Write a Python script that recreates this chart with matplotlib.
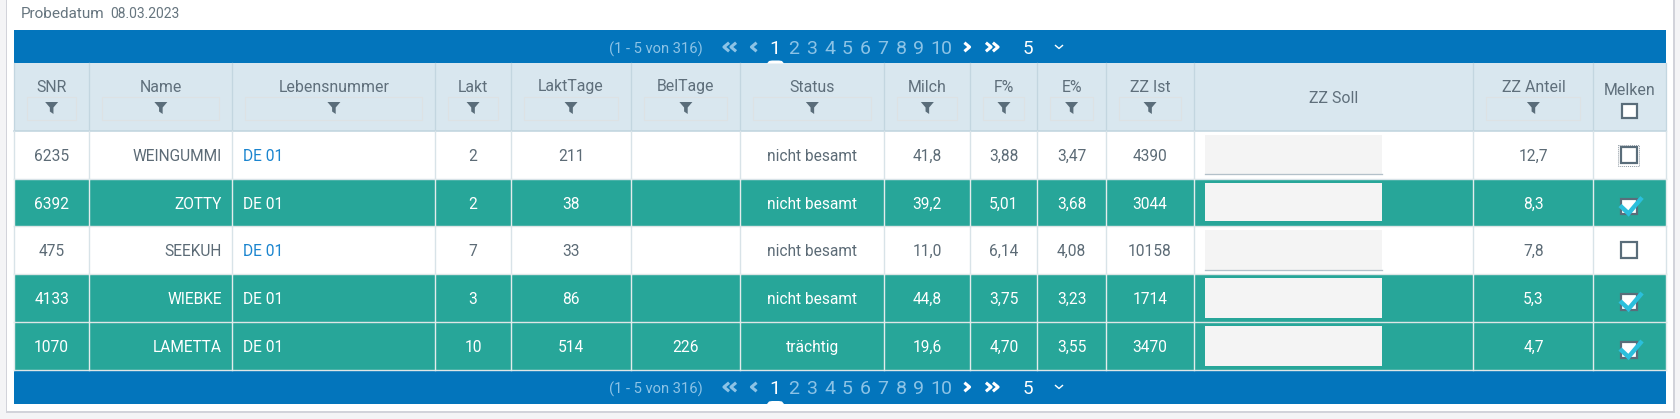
import matplotlib
matplotlib.use("Agg")
import matplotlib.pyplot as plt
from matplotlib.patches import Rectangle, Polygon
from matplotlib import font_manager as fm

# ---- data ----
columns = ["SNR", "Name", "Lebensnummer", "Lakt", "LaktTage", "BelTage", "Status",
           "Milch", "F%", "E%", "ZZ Ist", "ZZ Soll", "ZZ Anteil", "Melken"]
snr = ["6235", "6392", "475", "4133", "1070"]
names = ["WEINGUMMI", "ZOTTY", "SEEKUH", "WIEBKE", "LAMETTA"]
lebensnummer = ["DE 01", "DE 01", "DE 01", "DE 01", "DE 01"]
lakt = ["2", "2", "7", "3", "10"]
lakttage = ["211", "38", "33", "86", "514"]
beltage = ["", "", "", "", "226"]
status = ["nicht besamt", "nicht besamt", "nicht besamt", "nicht besamt", "trächtig"]
milch = ["41,8", "39,2", "11,0", "44,8", "19,6"]
fett = ["3,88", "5,01", "6,14", "3,75", "4,70"]
eiweiss = ["3,47", "3,68", "4,08", "3,23", "3,55"]
zz_ist = ["4390", "3044", "10158", "1714", "3470"]
zz_soll = ["", "", "", "", ""]
zz_anteil = ["12,7", "8,3", "7,8", "5,3", "4,7"]
melken = [False, True, False, True, True]
pages = ["1", "2", "3", "4", "5", "6", "7", "8", "9", "10"]
page_info = "(1 - 5 von 316)"
probe_label = "Probedatum"
probe_date = "08.03.2023"

# ---- layout (pixels) ----
W, H = 1681, 419
col_x = [14, 89.3, 232.4, 435.4, 510.7, 631.4, 740.4, 884.3, 970.4, 1037.5, 1105.7, 1194.4, 1473.5, 1593.3, 1665.6]
row_y = [131, 179, 226, 274, 322, 370]
BLUE = "#0375bc"; HEAD = "#d9e7ef"; TEAL = "#27a699"; TXT = "#5c6b76"; LINK = "#1b85cf"
HEADTXT = "#5f6f7b"; ICON = "#5a6d7a"; PALE = "#8cc3e6"

avail = {f.name for f in fm.fontManager.ttflist}
FAM = "Liberation Sans Narrow" if "Liberation Sans Narrow" in avail else "Roboto"
plt.rcParams["font.family"] = [FAM, "DejaVu Sans"]

fig = plt.figure(figsize=(W / 100, H / 100), dpi=100, facecolor="#f4f4f6")
ax = fig.add_axes([0, 0, 1, 1])
ax.set_xlim(0, W); ax.set_ylim(H, 0); ax.axis("off")
PX = 0.72

def rect(x0, y0, x1, y1, fc, ec="none", lw=0, z=1):
    ax.add_patch(Rectangle((x0, y0), x1 - x0, y1 - y0, fc=fc, ec=ec, lw=lw, zorder=z))

def txt(x, y, s, color=TXT, size=11.2, ha="center", **kw):
    ax.text(x, y, s, color=color, fontsize=size, ha=ha, va="center_baseline", zorder=6, **kw)

def chevron(cx, cy, color, lw=2.0, s=3.0, direction=1):
    ax.plot([cx - direction * s * 0.6, cx + direction * s * 0.6, cx - direction * s * 0.6],
            [cy - s, cy, cy + s], color=color, lw=lw, zorder=6, solid_capstyle="butt")

def funnel(cx, cy, color=ICON):
    ax.add_patch(Polygon([(cx - 6.5, cy - 6), (cx + 6.5, cy - 6), (cx + 1.8, cy - 0.5), (cx + 1.8, cy + 6),
                          (cx - 1.8, cy + 3.5), (cx - 1.8, cy - 0.5)], fc=color, ec="none", zorder=6))

def checkbox(cx, cy, checked=False, size=15.5, fc="white", focus=False):
    s = size / 2
    rect(cx - s, cy - s, cx + s, cy + s, fc, ICON, 2.0 * PX * 1.1, 6)
    if focus:
        ax.add_patch(Rectangle((cx - 10.5, cy - 10.5), 21, 21, fc="none", ec="#8f9aa3", lw=0.7,
                               ls=(0, (1, 1)), zorder=6))
    if checked:
        ax.plot([cx - 9, cx - 0.5, cx + 13], [cy - 1, cy + 7, cy - 9], color="#2bbfdc", lw=3.2,
                zorder=7, solid_joinstyle="miter", solid_capstyle="butt")

def pager(y0, y1, mark):
    rect(col_x[0], y0, col_x[-1], y1, BLUE, z=2)
    c = y0 + 17
    txt(656, c + 0.5, page_info, PALE, 10.6)
    for off in (-3.5, 3.5):
        chevron(730 + off, c, PALE, lw=2.2, s=4.3, direction=-1)
    chevron(754, c, PALE, lw=2.2, s=4.3, direction=-1)
    for lbl, x in zip(pages, [775, 794, 812, 830, 847.5, 865, 883, 901, 918.6, 941]):
        txt(x, c, lbl, "white" if lbl == "1" else PALE, 14)
    chevron(967, c, "white", lw=2.2, s=4.3)
    for off in (-3.5, 3.5):
        chevron(992 + off, c, "white", lw=2.2, s=4.3)
    txt(1028, c, "5", "white", 13.5)
    ax.plot([1055.5, 1059, 1062.5], [c - 1.5, c + 1.5, c - 1.5], color="white", lw=1.0, zorder=6)
    if mark:
        ax.add_patch(Polygon([(767, y1), (769, y1 - 2.5), (772, y1 - 3), (779, y1 - 3), (782, y1 - 2.5), (784, y1)],
                             fc="white", ec="none", zorder=6))

# panel with shadow
rect(6, -2, 1675, 413, "#d2d3da", z=0)
rect(7, -2, 1673, 411, "white", z=0.5)

txt(21, 12.7, probe_label, "#66757f", 11, ha="left")
txt(110.5, 13, probe_date, "#66757f", 10, ha="left")

pager(30, 63.5, True)
pager(370, 404, True)

# header
rect(col_x[0], 63.5, col_x[-1], row_y[0], HEAD, z=1)
ax.plot([col_x[0], col_x[-1]], [row_y[0], row_y[0]], color="#c0d4de", lw=1.2 * PX * 1.3, zorder=3)
for x in col_x:
    ax.plot([x, x], [63.5, row_y[0]], color="#c3d6e0", lw=1.3 * PX, zorder=3)
for i, name in enumerate(columns):
    a, b = col_x[i], col_x[i + 1]
    cx = (a + b) / 2
    if name == "ZZ Soll":
        txt(cx, 97, name, HEADTXT, 11.4)
    elif name == "Melken":
        txt(cx, 89, name, HEADTXT, 11.4)
        checkbox(cx, 111, size=14.5)
    else:
        txt(cx, 85.5, name, HEADTXT, 11.4)
        rect(a + 13, 96.5, b - 13, 119.5, "none", "#dde2e4", 0.8, 3)
        funnel(cx, 108)

# rows
table_cols = [snr, names, lebensnummer, lakt, lakttage, beltage, status, milch, fett, eiweiss, zz_ist,
              zz_soll, zz_anteil]
for r in range(5):
    y0, y1 = row_y[r], row_y[r + 1]
    c = (y0 + y1) / 2
    sel = melken[r]
    rect(col_x[0], y0, col_x[-1], y1, TEAL if sel else "white", z=1)
    grid = "#e3ecec" if sel else "#d8e3e8"
    ax.plot([col_x[0], col_x[-1]], [y1, y1], color="#dde6e6" if (sel or r == 2) else grid, lw=1.4 * PX, zorder=3)
    for x in col_x:
        ax.plot([x, x], [y0, y1], color=grid, lw=1.4 * PX, zorder=3)
    color = "white" if sel else TXT
    for i, values in enumerate(table_cols):
        a, b = col_x[i], col_x[i + 1]
        s = values[r]
        if columns[i] == "Name":
            txt(b - 10.5, c, s, color, ha="right")
        elif columns[i] == "Lebensnummer":
            txt(a + 10.5, c, s, color if sel else LINK, ha="left")
        elif columns[i] == "ZZ Soll":
            rect(1205, y0 + 4, 1382.5, y1 - 4.5, "#f4f4f4", z=4)
            if not sel:
                ax.plot([1205, 1382.5], [y1 - 4.5, y1 - 4.5], color="#b3c0c9", lw=1.3 * PX, zorder=5)
        elif s:
            txt((a + b) / 2, c, s, color)
    checkbox(1629, c + (4 if sel else 0), checked=sel, focus=(r == 0))

fig.savefig("out.png", dpi=100, facecolor=fig.get_facecolor())
print(FAM)
